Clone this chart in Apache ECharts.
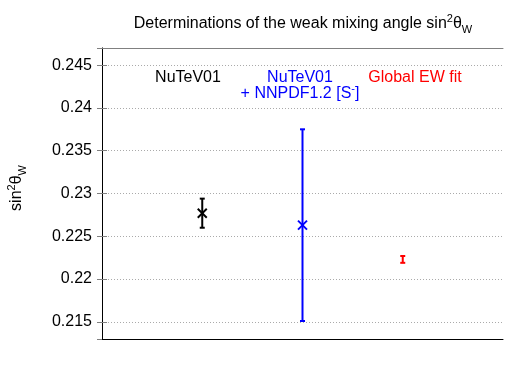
<!DOCTYPE html>
<html>
<head>
<meta charset="utf-8">
<script src="https://cdn.jsdelivr.net/npm/echarts@6/dist/echarts.min.js"></script>
<style>
html,body{margin:0;padding:0;background:#fff;}
#chart{width:531px;height:372px;}
</style>
</head>
<body>
<div id="chart"></div>
<script>
// ---- data ----
const categories = ['NuTeV01', 'NuTeV01 + NNPDF1.2 [S-]', 'Global EW fit'];
const xPositions = [1, 2, 3];
const centralValues = [0.2277, 0.2263, 0.2223];
const lowerValues = [0.2260, 0.2151, 0.2219];
const upperValues = [0.2294, 0.2375, 0.2227];
const showCross = [true, true, false];
const yTicks = [0.215, 0.22, 0.225, 0.23, 0.235, 0.24, 0.245];

const colors = ['#000000', '#0000ff', '#ff0000'];
const FONT = '"Liberation Sans", Arial, Helvetica, sans-serif';

const chart = echarts.init(document.getElementById('chart'), null, {renderer: 'canvas'});

const seriesData = categories.map((c, i) => [xPositions[i], centralValues[i], lowerValues[i], upperValues[i], i]);

function renderItem(params, api) {
  const x = api.value(0);
  const idx = api.value(4);
  const c = api.coord([x, api.value(1)]);
  const lo = api.coord([x, api.value(2)]);
  const hi = api.coord([x, api.value(3)]);
  const col = colors[idx];
  const cap = 2.5;
  const lw = 2;
  const children = [
    {type: 'line', shape: {x1: lo[0], y1: lo[1], x2: hi[0], y2: hi[1]}, style: {stroke: col, lineWidth: lw}},
    {type: 'line', shape: {x1: lo[0] - cap, y1: lo[1], x2: lo[0] + cap, y2: lo[1]}, style: {stroke: col, lineWidth: lw}},
    {type: 'line', shape: {x1: hi[0] - cap, y1: hi[1], x2: hi[0] + cap, y2: hi[1]}, style: {stroke: col, lineWidth: lw}}
  ];
  if (showCross[idx]) {
    const s = 4.5;
    children.push({type: 'line', shape: {x1: c[0] - s, y1: c[1] - s, x2: c[0] + s, y2: c[1] + s}, style: {stroke: col, lineWidth: 2}});
    children.push({type: 'line', shape: {x1: c[0] - s, y1: c[1] + s, x2: c[0] + s, y2: c[1] - s}, style: {stroke: col, lineWidth: 2}});
  }
  return {type: 'group', children: children};
}

const yMin = 0.213, yMax = 0.247;
function yLabel(v) {
  for (const t of yTicks) { if (Math.abs(v - t) < 1e-9) return String(t); }
  return '';
}

const option = {
  backgroundColor: '#ffffff',
  animation: false,
  grid: {left: 102, right: 28, top: 48, bottom: 33, containLabel: false},
  xAxis: [
    {type: 'value', min: 0, max: 4, position: 'bottom',
     axisLine: {show: true, lineStyle: {color: '#000', width: 1}},
     axisTick: {show: false}, axisLabel: {show: false}, splitLine: {show: false}},
    {type: 'value', min: 0, max: 4, position: 'top',
     axisLine: {show: true, lineStyle: {color: '#808080', width: 1}},
     axisTick: {show: false}, axisLabel: {show: false}, splitLine: {show: false}}
  ],
  yAxis: [
    {type: 'value', min: yMin, max: yMax, splitNumber: 7, position: 'left',
     axisLine: {show: true, lineStyle: {color: '#808080', width: 1}},
     axisTick: {show: true, inside: true, length: 5, lineStyle: {color: '#808080'}},
     axisLabel: {show: true, margin: 10, color: '#000', fontSize: 16, fontFamily: FONT, formatter: yLabel,
                 showMinLabel: false, showMaxLabel: false},
     splitLine: {show: true, lineStyle: {color: '#aaaaaa', type: [1, 2], width: 1}}},
    {type: 'value', min: yMin, max: yMax, splitNumber: 7, position: 'right',
     axisLine: {show: true, lineStyle: {color: '#000', width: 1}},
     axisTick: {show: true, inside: true, length: 5, lineStyle: {color: '#808080'}},
     axisLabel: {show: false}, splitLine: {show: false}}
  ],
  series: [{
    type: 'custom',
    xAxisIndex: 0, yAxisIndex: 0,
    renderItem: renderItem,
    data: seriesData,
    clip: false
  }],
  graphic: [
    {type: 'text', x: 303, y: 24, style: {
      text: 'Determinations of the weak mixing angle sin{sup|2}θ{sub|W}',
      font: '16px ' + FONT, fill: '#000', align: 'center', verticalAlign: 'middle', lineHeight: 22,
      rich: {
        sup: {fontSize: 11, fontFamily: FONT, lineHeight: 11, verticalAlign: 'top', fill: '#000'},
        sub: {fontSize: 11, fontFamily: FONT, lineHeight: 11, verticalAlign: 'bottom', fill: '#000'}
      }}},
    {type: 'text', x: 17, y: 188, rotation: Math.PI / 2, style: {
      text: 'sin{sup|2}θ{sub|W}',
      font: '16px ' + FONT, fill: '#000', align: 'center', verticalAlign: 'middle', lineHeight: 22,
      rich: {
        sup: {fontSize: 11, fontFamily: FONT, lineHeight: 11, verticalAlign: 'top', fill: '#000'},
        sub: {fontSize: 11, fontFamily: FONT, lineHeight: 11, verticalAlign: 'bottom', fill: '#000'}
      }}},
    {type: 'text', x: 188, y: 78, style: {text: 'NuTeV01', font: '16px ' + FONT, fill: colors[0], align: 'center', verticalAlign: 'middle'}},
    {type: 'text', x: 300, y: 78, style: {text: 'NuTeV01', font: '16px ' + FONT, fill: colors[1], align: 'center', verticalAlign: 'middle'}},
    {type: 'text', x: 300, y: 93.5, style: {
      text: '+ NNPDF1.2 [S{sup|-}]', font: '16px ' + FONT, fill: colors[1], align: 'center', verticalAlign: 'middle', lineHeight: 20,
      rich: {sup: {fontSize: 11, fontFamily: FONT, lineHeight: 11, verticalAlign: 'top', fill: colors[1]}}}},
    {type: 'text', x: 415, y: 78, style: {text: 'Global EW fit', font: '16px ' + FONT, fill: colors[2], align: 'center', verticalAlign: 'middle'}}
  ]
};
chart.setOption(option);
</script>
</body>
</html>
